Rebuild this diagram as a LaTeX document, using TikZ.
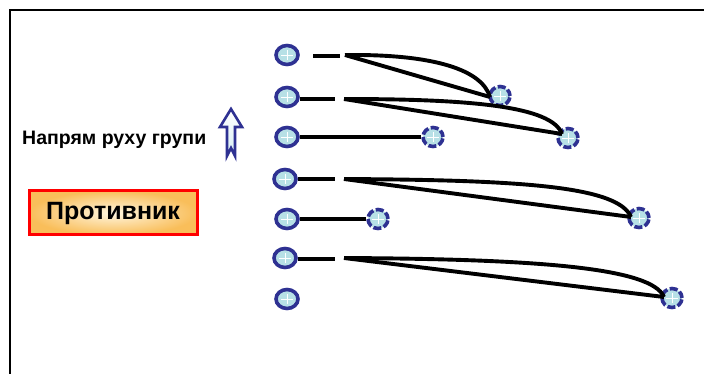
\documentclass[tikz,border=0pt]{standalone}
\usepackage{fontspec}
\setmainfont{Liberation Sans}
\usetikzlibrary{shapes.geometric}
\definecolor{ringblue}{HTML}{2E3192}
\definecolor{ballfill}{HTML}{B7E0E6}
\definecolor{boxorange}{HTML}{F9BE5A}
\definecolor{boxlight}{HTML}{FFF6E0}
\definecolor{arrowfill}{HTML}{D6EEF4}
\tikzset{
  x=1pt, y=-1pt,
  own/.style={ellipse, draw=ringblue, fill=ballfill, line width=3.6pt, minimum width=22pt, minimum height=19pt, inner sep=0pt},
  foe/.style={ellipse, draw=ringblue, fill=ballfill, line width=3.6pt, minimum width=20pt, minimum height=19pt, inner sep=0pt, dash pattern=on 8pt off 2.5pt, dash phase=1pt},
  path/.style={draw=black, line width=3.9pt},
  leg/.style={draw=black, line width=3.5pt},
}
\newcommand{\gleam}[1]{\draw[white, line width=0.7pt] ([xshift=-6pt]#1.center) -- ([xshift=6pt]#1.center) ([yshift=-5pt]#1.center) -- ([yshift=5pt]#1.center);}
\begin{document}
\begin{tikzpicture}
\useasboundingbox (0,0) rectangle (704,374);
% frame
\draw[line width=1.8pt] (10,374) -- (10,10) -- (704,10);

% own group
\node[own] (o1) at (287,55) {};
\node[own] (o2) at (287,97) {};
\node[own] (o3) at (287,137) {};
\node[own] (o4) at (285,179) {};
\node[own] (o5) at (287,219) {};
\node[own] (o6) at (285,258) {};
\node[own] (o7) at (287,299) {};

% enemies
\node[foe] (e1) at (500,96) {};
\node[foe] (e2) at (568,138) {};
\node[foe] (e3) at (433,137) {};
\node[foe] (e4) at (639,218) {};
\node[foe] (e5) at (378,219) {};
\node[foe] (e6) at (672,298) {};

\foreach \n in {o1,o2,o3,o4,o5,o6,o7,e1,e2,e3,e4,e5,e6}{\gleam{\n}}

% coordinates
\coordinate (s1a) at (313,56);
\coordinate (s1b) at (340,56);
\coordinate (p1) at (345,55);
\coordinate (q1) at (490,97);
\coordinate (s2b) at (335,99);
\coordinate (p2) at (344,99);
\coordinate (q2) at (562,134);
\coordinate (s4b) at (335,179);
\coordinate (p4) at (344,179);
\coordinate (q4) at (631,217);
\coordinate (s6b) at (335,259);
\coordinate (p6) at (344,258);
\coordinate (q6) at (664,297);

% row 1
\draw[leg] (s1a) -- (s1b);
\draw[path] (p1) .. controls (435,54) and (482,70) .. (q1);
\draw[path] (p1) -- (q1);
% row 2
\draw[leg] (o2.east |- s2b) -- (s2b);
\draw[path] (p2) .. controls (470,99) and (552,106) .. (q2);
\draw[path] (p2) -- (q2);
% row 3
\draw[leg] (o3.east) -- (e3.west);
% row 4
\draw[leg] (o4.east |- s4b) -- (s4b);
\draw[path] (p4) .. controls (520,180) and (618,186) .. (q4);
\draw[path] (p4) -- (q4);
% row 5
\draw[leg] (o5.east) -- (e5.west);
% row 6
\draw[leg] (o6.east |- s6b) -- (s6b);
\draw[path] (p6) .. controls (540,259) and (652,268) .. (q6);
\draw[path] (p6) -- (q6);

% label
\node[font=\bfseries\fontsize{19.5}{22}\selectfont, anchor=west, inner sep=0pt] (lbl) at (22,140) {Напрям руху групи};
% direction arrow
\draw[ringblue, line width=2.6pt, top color=white, bottom color=arrowfill, line join=miter]
  (227,156) -- (227,127) -- (220,127) -- (231,109) -- (242,127) -- (235,127) -- (235,156) -- (231,148) -- cycle;

% enemy box
\node[draw=red, line width=3pt, inner color=boxlight, outer color=boxorange, minimum width=168pt, minimum height=44pt, font=\bfseries\fontsize{25}{28}\selectfont] (foe) at (113,213) {Противник};
\end{tikzpicture}
\end{document}
